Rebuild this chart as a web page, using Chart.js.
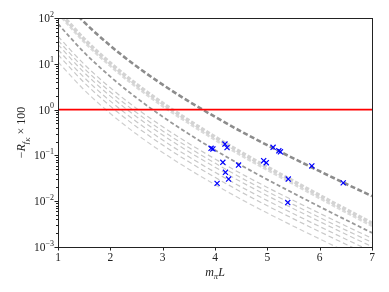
<!DOCTYPE html>
<html>
<head>
<meta charset="utf-8">
<script src="https://cdn.jsdelivr.net/npm/chart.js@4/dist/chart.umd.min.js"></script>
<style>
  body { margin: 0; background: #fff; }
</style>
</head>
<body>
<canvas id="chart" width="389" height="292"></canvas>
<script>
const mL = [1, 1.5, 2, 2.5, 3, 3.5, 4, 4.5, 5, 5.5, 6, 6.5, 7];

// dashed bands, top to bottom
const darkTop   = [331, 81.3, 24.8, 8.81, 3.51, 1.51, 0.695, 0.333, 0.167, 0.0861, 0.0452, 0.024, 0.0129];
const lightA    = [144.5, 34.5, 10.3, 3.55, 1.37, 0.575, 0.252, 0.115, 0.0552, 0.0272, 0.0133, 0.0066, 0.00331];
const lightB    = [125.9, 30.0, 8.97, 3.09, 1.19, 0.501, 0.219, 0.1, 0.0481, 0.0237, 0.0116, 0.00575, 0.00288];
const darkMid   = [74.1, 17.7, 5.25, 1.81, 0.7, 0.293, 0.131, 0.0609, 0.0296, 0.0149, 0.00759, 0.00391, 0.00204];
const thin1     = [39.8, 9.77, 2.99, 1.06, 0.422, 0.182, 0.0836, 0.04, 0.02, 0.01035, 0.00543, 0.00288, 0.00155];
const thin2     = [32.4, 7.94, 2.43, 0.861, 0.343, 0.148, 0.0679, 0.0325, 0.0163, 0.00841, 0.00441, 0.00234, 0.00126];
const thin3     = [26.3, 6.45, 1.97, 0.7, 0.279, 0.12, 0.0553, 0.0264, 0.0132, 0.00684, 0.00359, 0.0019, 0.00102];
const thin4     = [20.4, 5.01, 1.53, 0.544, 0.216, 0.0933, 0.0429, 0.0205, 0.0103, 0.00531, 0.00279, 0.00148, 0.000795];
const thin5     = [15.8, 3.89, 1.19, 0.422, 0.168, 0.0725, 0.0333, 0.0159, 0.00796, 0.00412, 0.00216, 0.00115, 0.000617];
const thin6     = [11.0, 2.69, 0.823, 0.292, 0.116, 0.0501, 0.023, 0.011, 0.00551, 0.00285, 0.0015, 0.000793, 0.000427];

// lattice points (blue crosses)
const ptsX = [3.925, 3.96, 4.19, 4.23, 5.11, 5.22, 5.25, 5.85, 6.45, 4.15, 4.45, 4.93, 4.98, 4.2, 4.26, 4.04, 5.4, 5.39];
const ptsY = [0.143, 0.138, 0.177, 0.148, 0.15, 0.126, 0.12, 0.0589, 0.0251, 0.0708, 0.0617, 0.0767, 0.0692, 0.0427, 0.0305, 0.0245, 0.0305, 0.00933];

// red reference line
const refX = [1, 7];
const refY = [1, 1];

const xTicks = [1, 2, 3, 4, 5, 6, 7];
const yPowers = [-3, -2, -1, 0, 1, 2];

const pairs = (xs, ys) => xs.map((x, i) => ({ x: x, y: ys[i] }));

function curve(ys, color, width, dash) {
    return {
        data: pairs(mL, ys),
        showLine: true,
        borderColor: color,
        borderWidth: width,
        borderDash: dash,
        borderCapStyle: 'butt',
        pointRadius: 0,
        cubicInterpolationMode: 'monotone',
        clip: 0
    };
}

const serif = '"Liberation Serif", "DejaVu Serif", serif';

function drawParts(ctx, parts, cx, cy) {
    let total = 0;
    parts.forEach(p => { ctx.font = p.font; total += ctx.measureText(p.t).width; });
    let x = cx - total / 2;
    parts.forEach(p => {
        ctx.font = p.font;
        ctx.fillText(p.t, x, cy + (p.dy || 0));
        x += ctx.measureText(p.t).width;
    });
}

const axesDeco = {
    id: 'axesDeco',
    afterDraw(chart) {
        const ctx = chart.ctx;
        const a = chart.chartArea;
        const xs = chart.scales.x, ys = chart.scales.y;
        ctx.save();
        ctx.strokeStyle = '#222';
        ctx.fillStyle = '#222';
        ctx.lineWidth = 1;
        ctx.strokeRect(Math.round(a.left) + 0.5, Math.round(a.top) + 0.5,
            Math.round(a.right - a.left), Math.round(a.bottom - a.top));

        // x ticks
        ctx.beginPath();
        xTicks.forEach(v => {
            const px = Math.round(xs.getPixelForValue(v)) + 0.5;
            ctx.moveTo(px, a.bottom);
            ctx.lineTo(px, a.bottom + 3.5);
        });
        // y ticks, major and minor
        yPowers.forEach(p => {
            const py = Math.round(ys.getPixelForValue(Math.pow(10, p))) + 0.5;
            ctx.moveTo(a.left - 3.5, py);
            ctx.lineTo(a.left, py);
            if (p < 2) {
                for (let m = 2; m <= 9; m++) {
                    const q = Math.round(ys.getPixelForValue(m * Math.pow(10, p))) + 0.5;
                    ctx.moveTo(a.left - 2, q);
                    ctx.lineTo(a.left, q);
                }
            }
        });
        ctx.stroke();

        // x labels
        ctx.textAlign = 'center';
        ctx.textBaseline = 'middle';
        ctx.font = '11.5px ' + serif;
        xTicks.forEach(v => {
            ctx.fillText(String(v), xs.getPixelForValue(v), a.bottom + 11);
        });

        // y labels 10^k
        ctx.textAlign = 'left';
        yPowers.forEach(p => {
            const py = ys.getPixelForValue(Math.pow(10, p));
            const exp = p < 0 ? '\u2212' + (-p) : String(p);
            ctx.font = '8px ' + serif;
            const ew = ctx.measureText(exp).width;
            ctx.font = '11.5px ' + serif;
            const bw = ctx.measureText('10').width;
            const right = a.left - 4;
            ctx.fillText('10', right - ew - bw, py + 1);
            ctx.font = '8px ' + serif;
            ctx.fillText(exp, right - ew, py - 3.5);
        });

        // axis titles
        ctx.textBaseline = 'alphabetic';
        drawParts(ctx, [
            { t: 'm', font: 'italic 12px ' + serif },
            { t: '\u03c0', font: 'italic 8.5px ' + serif, dy: 2.5 },
            { t: 'L', font: 'italic 12px ' + serif }
        ], (a.left + a.right) / 2, 276);

        ctx.translate(25, (a.top + a.bottom) / 2);
        ctx.rotate(-Math.PI / 2);
        drawParts(ctx, [
            { t: '\u2212', font: '12px ' + serif },
            { t: 'R', font: 'italic 12px ' + serif },
            { t: 'f', font: 'italic 8.5px ' + serif, dy: 2.5 },
            { t: 'K', font: 'italic 6.5px ' + serif, dy: 4.5 },
            { t: ' \u00d7 100', font: '12px ' + serif }
        ], 0, 0);
        ctx.restore();
    }
};

const config = {
    type: 'scatter',
    data: {
        datasets: [
            {
                data: pairs(ptsX, ptsY),
                pointStyle: 'crossRot',
                pointRadius: 3.6,
                pointBorderColor: '#0000ff',
                pointBorderWidth: 1.2,
                clip: 0
            },
            {
                data: pairs(refX, refY),
                showLine: true,
                borderColor: '#ff0000',
                borderWidth: 1.8,
                pointRadius: 0,
                clip: 0
            },
            curve(darkTop, '#8c8c8c', 2.6, [5, 2.5]),
            curve(darkMid, '#999999', 1.8, [4, 2.5]),
            curve(lightA, '#d3d3d3', 3.6, [4, 2]),
            curve(lightB, '#dadada', 2.4, [4, 2]),
            curve(thin1, '#c8c8c8', 1.2, [5, 3]),
            curve(thin2, '#c8c8c8', 1.2, [5, 3]),
            curve(thin3, '#c8c8c8', 1.2, [5, 3]),
            curve(thin4, '#c8c8c8', 1.2, [5, 3]),
            curve(thin5, '#c8c8c8', 1.2, [5, 3]),
            curve(thin6, '#cfcfcf', 1.2, [5, 3])
        ]
    },
    options: {
        responsive: false,
        animation: false,
        devicePixelRatio: 1,
        layout: { padding: { left: 0, top: 18, right: 17, bottom: 0 } },
        plugins: {
            legend: { display: false },
            tooltip: { enabled: false }
        },
        scales: {
            x: {
                type: 'linear',
                min: 1,
                max: 7,
                grid: { display: false },
                border: { display: false },
                ticks: { display: false },
                afterFit: s => { s.height = 45; }
            },
            y: {
                type: 'logarithmic',
                min: 0.001,
                max: 100,
                grid: { display: false },
                border: { display: false },
                ticks: { display: false },
                afterFit: s => { s.width = 58; }
            }
        }
    },
    plugins: [axesDeco]
};

const myChart = new Chart(document.getElementById('chart'), config);
</script>
</body>
</html>
